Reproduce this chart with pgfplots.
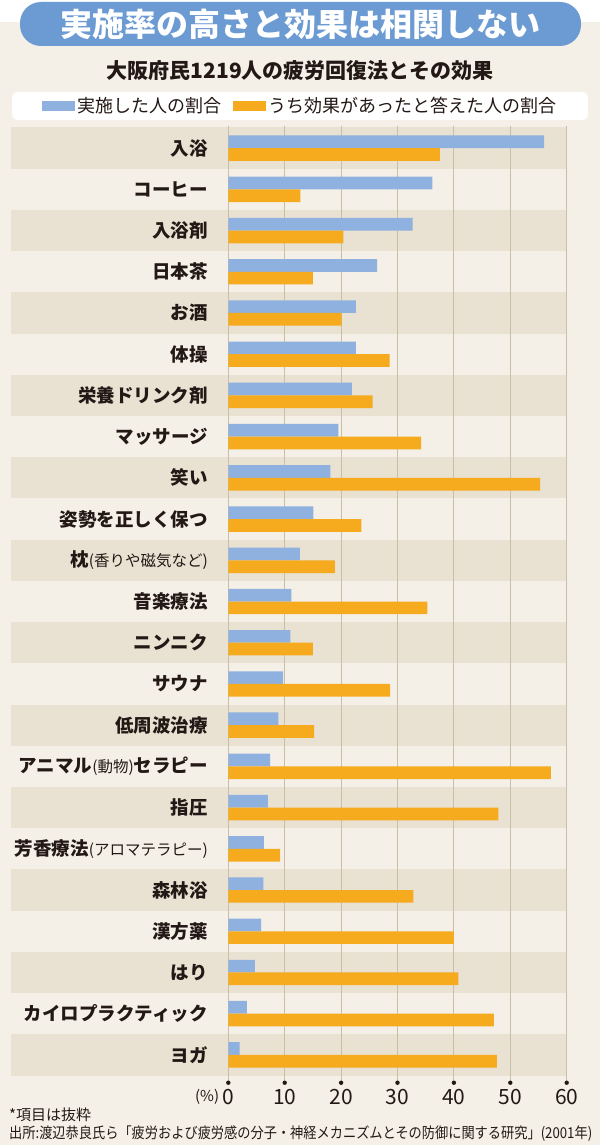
\documentclass[border=0pt]{standalone}
\usepackage{fontspec}
\setmainfont{Noto Sans CJK JP}
\usepackage{pgfplots}
\pgfplotsset{compat=1.18}

\definecolor{bg}{HTML}{F4F0E7}
\definecolor{band}{HTML}{E9E2D2}
\definecolor{gridc}{HTML}{C8BFA6}
\definecolor{titleblue}{HTML}{6B9BD2}
\definecolor{barblue}{HTML}{8EB1DF}
\definecolor{barorange}{HTML}{F6AA1E}
\definecolor{ink}{HTML}{231815}

% small parenthetical part of a label
\newcommand\sm[1]{{\fontsize{15.5}{17}\selectfont\mdseries(#1)}}

\begin{document}
\begin{tikzpicture}[x=1pt,y=1pt]
  \fill[bg] (0,0) rectangle (600,-1145);
  \useasboundingbox (0,0) rectangle (600,-1145);
  \fill[white] (0,0) rectangle (600,-22);

  % title
  \fill[titleblue, rounded corners=21pt] (20,-2) rectangle (581,-46);
  \node[white, font=\fontsize{32}{35}\selectfont\bfseries] at (300,-24) {実施率の高さと効果は相関しない};
  \node[ink, font=\fontsize{21}{24}\selectfont\bfseries] at (300,-71) {大阪府民1219人の疲労回復法とその効果};
  \fill[white, rounded corners=6pt] (12,-92) rectangle (588,-120);

  % row bands (every other row, behind labels)
  \foreach \k in {0,2,...,22}
    \fill[band] (11,{-127.5-41.2174*\k}) rectangle (566.7,{-127.5-41.2174*(\k+1)});

  \begin{axis}[
      at={(228.3pt,-1075.5pt)}, anchor=south west,
      scale only axis, width=338.4pt, height=948pt,
      xmin=0, xmax=60, ymin=-0.5, ymax=22.5,
      y dir=reverse,
      xbar, bar width=12.7pt,
      clip=false,
      axis line style={draw=none},
      tick style={draw=none},
      xtick={0,10,...,60},
      ytick={0,...,22},
      yticklabels={入浴,コーヒー,入浴剤,日本茶,お酒,体操,栄養ドリンク剤,マッサージ,笑い,姿勢を正しく保つ,
        {枕\sm{香りや磁気など}},音楽療法,ニンニク,サウナ,低周波治療,{アニマル\sm{動物}セラピー},指圧,
        {芳香療法\sm{アロマテラピー}},森林浴,漢方薬,はり,カイロプラクティック,ヨガ},
      yticklabel style={anchor=east, inner sep=0pt, xshift=-16pt,
        font=\fontsize{18.5}{20}\selectfont\bfseries, text=ink},
      xticklabel style={anchor=center, yshift=-21pt,
        font=\fontsize{21}{23}\selectfont, text=ink},
      /pgf/number format/assume math mode=true,
      legend columns=2,
      legend style={at={(0.2119,1.0227)}, anchor=center, draw=none, fill=none,
        font=\fontsize{18}{20}\selectfont, text=ink,
        /tikz/every even column/.append style={column sep=10pt}},
      legend image code/.code={\fill[#1] (0pt,-5pt) rectangle (33pt,5pt);},
    ]
    % grid lines and tick dots
    \pgfplotsinvokeforeach{0,10,...,60}{
      \draw[gridc, line width=0.9pt] ([yshift=2pt]axis cs:#1,-0.5) -- ([yshift=-7pt]axis cs:#1,22.5);
      \fill[ink] ([yshift=-7.2pt]axis cs:#1,22.5) circle (2.2pt);
    }

    \addplot[fill=barblue, draw=none, bar shift=6.35pt] coordinates {
      (56.0,0) (36.2,1) (32.7,2) (26.4,3) (22.6,4) (22.6,5) (21.9,6) (19.5,7)
      (18.1,8) (15.1,9) (12.7,10) (11.2,11) (11.0,12) (9.7,13) (8.9,14) (7.4,15)
      (7.0,16) (6.3,17) (6.2,18) (5.8,19) (4.7,20) (3.3,21) (2.0,22)
    };
    \addlegendentry{実施した人の割合}
    \addplot[fill=barorange, draw=none, bar shift=-6.35pt] coordinates {
      (37.5,0) (12.8,1) (20.4,2) (15.0,3) (20.1,4) (28.6,5) (25.6,6) (34.2,7)
      (55.3,8) (23.6,9) (18.9,10) (35.3,11) (15.0,12) (28.7,13) (15.2,14) (57.2,15)
      (47.9,16) (9.2,17) (32.8,18) (40.0,19) (40.8,20) (47.1,21) (47.6,22)
    };
    \addlegendentry{うち効果があったと答えた人の割合}

    \node[anchor=east, inner sep=0pt, text=ink, font=\fontsize{15}{17}\selectfont]
      at ([xshift=-9pt, yshift=-21pt]axis cs:0,22.5) {(\%)};
  \end{axis}

  % notes
  \node[anchor=west, inner sep=0pt, text=ink, font=\fontsize{15}{17}\selectfont] at (9,-1115) {*項目は抜粋};
  \node[anchor=west, inner sep=0pt, text=ink, font=\fontsize{15}{17}\selectfont] at (9,-1134)
    {\resizebox{583pt}{\height}{出所:渡辺恭良氏ら「疲労および疲労感の分子・神経メカニズムとその防御に関する研究」(2001年)}};
\end{tikzpicture}
\end{document}
